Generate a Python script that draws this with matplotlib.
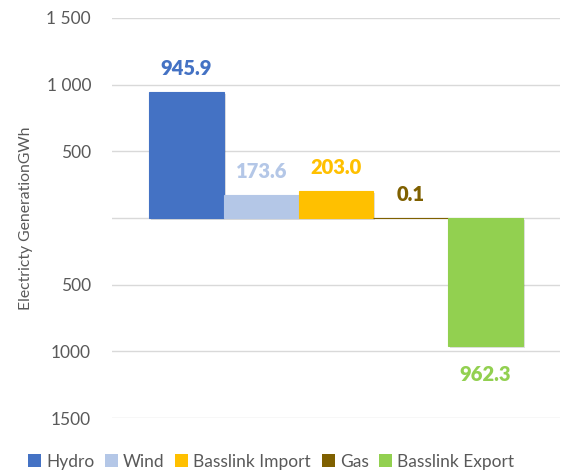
import matplotlib
matplotlib.use("Agg")
import matplotlib.pyplot as plt
import matplotlib.patheffects as pe
from matplotlib.patches import Patch

plt.rcParams["font.family"] = ["Lato", "DejaVu Sans"]

# ---- data ----
sources = ["Hydro", "Wind", "Basslink Import", "Gas", "Basslink Export"]
gwh = [945.9, 173.6, 203.0, 0.1, -962.3]
colors = ["#4472C4", "#B4C7E7", "#FFC000", "#7F6000", "#92D050"]
yticks = [1500, 1000, 500, 0, -500, -1000, -1500]
ytick_labels = ["1 500", "1 000", "500", "", "500", "1000", "1500"]

GRAY = "#595959"

fig = plt.figure(figsize=(5.77, 4.72), dpi=100)
ax = fig.add_axes([0.194, 0.1144, 0.7765, 0.8475])

shadow = [pe.SimplePatchShadow(offset=(1.5, -1.5), shadow_rgbFace="black", alpha=0.12), pe.Normal()]
for i, (v, c) in enumerate(zip(gwh, colors)):
    ax.bar(i, v, width=1.0, color=c, edgecolor=c, linewidth=0.8, zorder=3, path_effects=shadow)
    off = 17 if v >= 0 else -20
    ax.annotate(f"{abs(v):.1f}", (i, v), xytext=(0, off), textcoords="offset points",
                ha="center", va="center", fontsize=14.5, fontweight="heavy", color=c)

ax.set_xlim(-1, 5)
ax.set_ylim(-1500, 1500)
ax.set_xticks([])
ax.set_yticks(yticks)
ax.set_yticklabels(ytick_labels)
ax.tick_params(axis="y", length=0, pad=15, labelsize=12.5, labelcolor=GRAY)
ax.grid(True, axis="y", color="#D9D9D9", lw=1.0, zorder=0)
ax.set_axisbelow(True)
for s in ax.spines.values():
    s.set_visible(False)

ax.set_ylabel("Electricty GenerationGWh", fontsize=11.3, color=GRAY)
ax.yaxis.set_label_coords(-0.177, 0.5)

handles = [Patch(facecolor=c, label=n) for n, c in zip(sources, colors)]
leg = fig.legend(handles=handles, loc="center", bbox_to_anchor=(0.47, 0.022), ncol=5, frameon=False,
                 fontsize=12.5, handlelength=0.75, handleheight=0.75, handletextpad=0.3,
                 columnspacing=0.6, borderpad=0)
for t in leg.get_texts():
    t.set_color(GRAY)

fig.savefig("out.png", dpi=100, facecolor="white")
